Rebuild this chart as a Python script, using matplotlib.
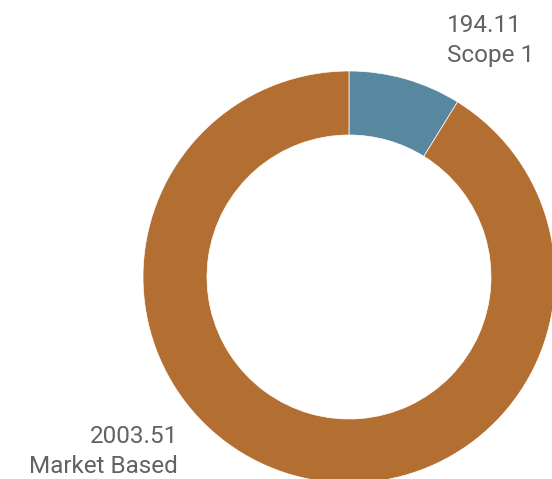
import matplotlib
matplotlib.use("Agg")
import matplotlib.pyplot as plt

categories = ["Scope 1", "Market Based"]
values = [194.11, 2003.51]
colors = ["#5887a0", "#b36f32"]

W, H = 552, 479
fig = plt.figure(figsize=(W / 100, H / 100), dpi=100)
ax = fig.add_axes([0, 0, 1, 1])

cx, cy = 349, H - 277
radius, ring = 206, 64
ax.pie(values, colors=colors, startangle=90, counterclock=False,
       center=(cx, cy), radius=radius, frame=True,
       wedgeprops=dict(width=ring, edgecolor="white", linewidth=0.5))
ax.set_xlim(0, W)
ax.set_ylim(0, H)
ax.set_aspect("equal")
ax.axis("off")

font = dict(family=["Roboto", "DejaVu Sans"], fontsize=17.5, color="#626262")
ax.text(447, H - 32, f"{values[0]:.2f}", ha="left", va="baseline", **font)
ax.text(447, H - 62, categories[0], ha="left", va="baseline", **font)
ax.text(178, H - 443, f"{values[1]:.2f}", ha="right", va="baseline", **font)
ax.text(178, H - 473, categories[1], ha="right", va="baseline", **font)

fig.savefig("out.png", dpi=100)
